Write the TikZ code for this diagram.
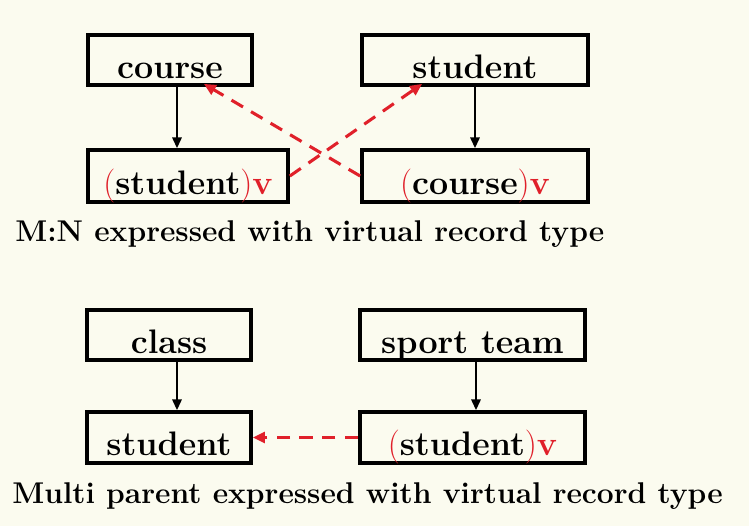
\documentclass[tikz,border=0pt]{standalone}
\usetikzlibrary{arrows.meta,calc}
\definecolor{bg}{HTML}{FBFBEF}
\definecolor{vred}{HTML}{E0202A}
\begin{document}
\begin{tikzpicture}[x=0.75pt,y=-0.75pt,
  box/.style={draw=black,line width=2.8pt,rectangle,inner sep=0pt,
    text height=10pt,text depth=10pt,
    font=\fontsize{25.5}{28}\selectfont\bfseries},
  link/.style={draw=black,line width=1.5pt,-{Triangle[length=8pt,width=7pt]}},
  vlink/.style={draw=vred,line width=2.3pt,dash pattern=on 10pt off 7pt,
    -{Triangle[length=9pt,width=8pt]}},
  captext/.style={anchor=west,inner sep=0pt,font=\fontsize{22.5}{26}\selectfont\bfseries}]
\fill[bg] (0,0) rectangle (749,526);
\useasboundingbox (0,0) rectangle (749,526);
\newcommand{\vb}[1]{\raisebox{-13.5pt}[0pt][0pt]{#1}}
\newcommand{\rp}[1]{\textcolor{vred}{\mdseries#1}}
\newcommand{\rv}{\textcolor{vred}{v}}
% top
\node[box,minimum width=123pt,minimum height=37.5pt] (course) at (170,60) {\vb{course}};
\node[box,minimum width=169.5pt,minimum height=37.5pt] (student) at (475,60) {\vb{student}};
\node[box,minimum width=150pt,minimum height=39pt] (sv) at (188,176) {\vb{\rp{(}student\rp{)}\rv}};
\node[box,minimum width=169.5pt,minimum height=39pt] (cv) at (475,176) {\vb{\rp{(}course\rp{)}\rv}};
\draw[link] (course.south -| 177,0) -- (sv.north -| 177,0);
\draw[link] (student) -- (cv);
\coordinate (ct) at ($(course.south east)+(-50,-3)$);
\coordinate (st) at ($(student.south west)+(62,-3)$);
\draw[vlink] (cv.west) -- (ct);
\draw[vlink] (sv.east) -- (st);
\node[captext] (cap1) at (15,234) {M:N expressed with virtual record type};
% bottom
\node[box,minimum width=123pt,minimum height=37.5pt] (class) at (169,335) {\vb{class}};
\node[box,minimum width=168.75pt,minimum height=37.5pt] (team) at (472.5,335) {\vb{sport team}};
\node[box,minimum width=123pt,minimum height=38.25pt] (stu) at (169,437.5) {\vb{student}};
\node[box,minimum width=168.75pt,minimum height=38.25pt] (sv2) at (472.5,437.5) {\vb{\rp{(}student\rp{)}\rv}};
\draw[link] (class.south -| 177,0) -- (stu.north -| 177,0);
\draw[link] (team.south -| 476,0) -- (sv2.north -| 476,0);
\draw[vlink] (sv2.west) -- (stu.east);
\node[captext] (cap2) at (12,496) {Multi parent expressed with virtual record type};
\end{tikzpicture}
\end{document}
